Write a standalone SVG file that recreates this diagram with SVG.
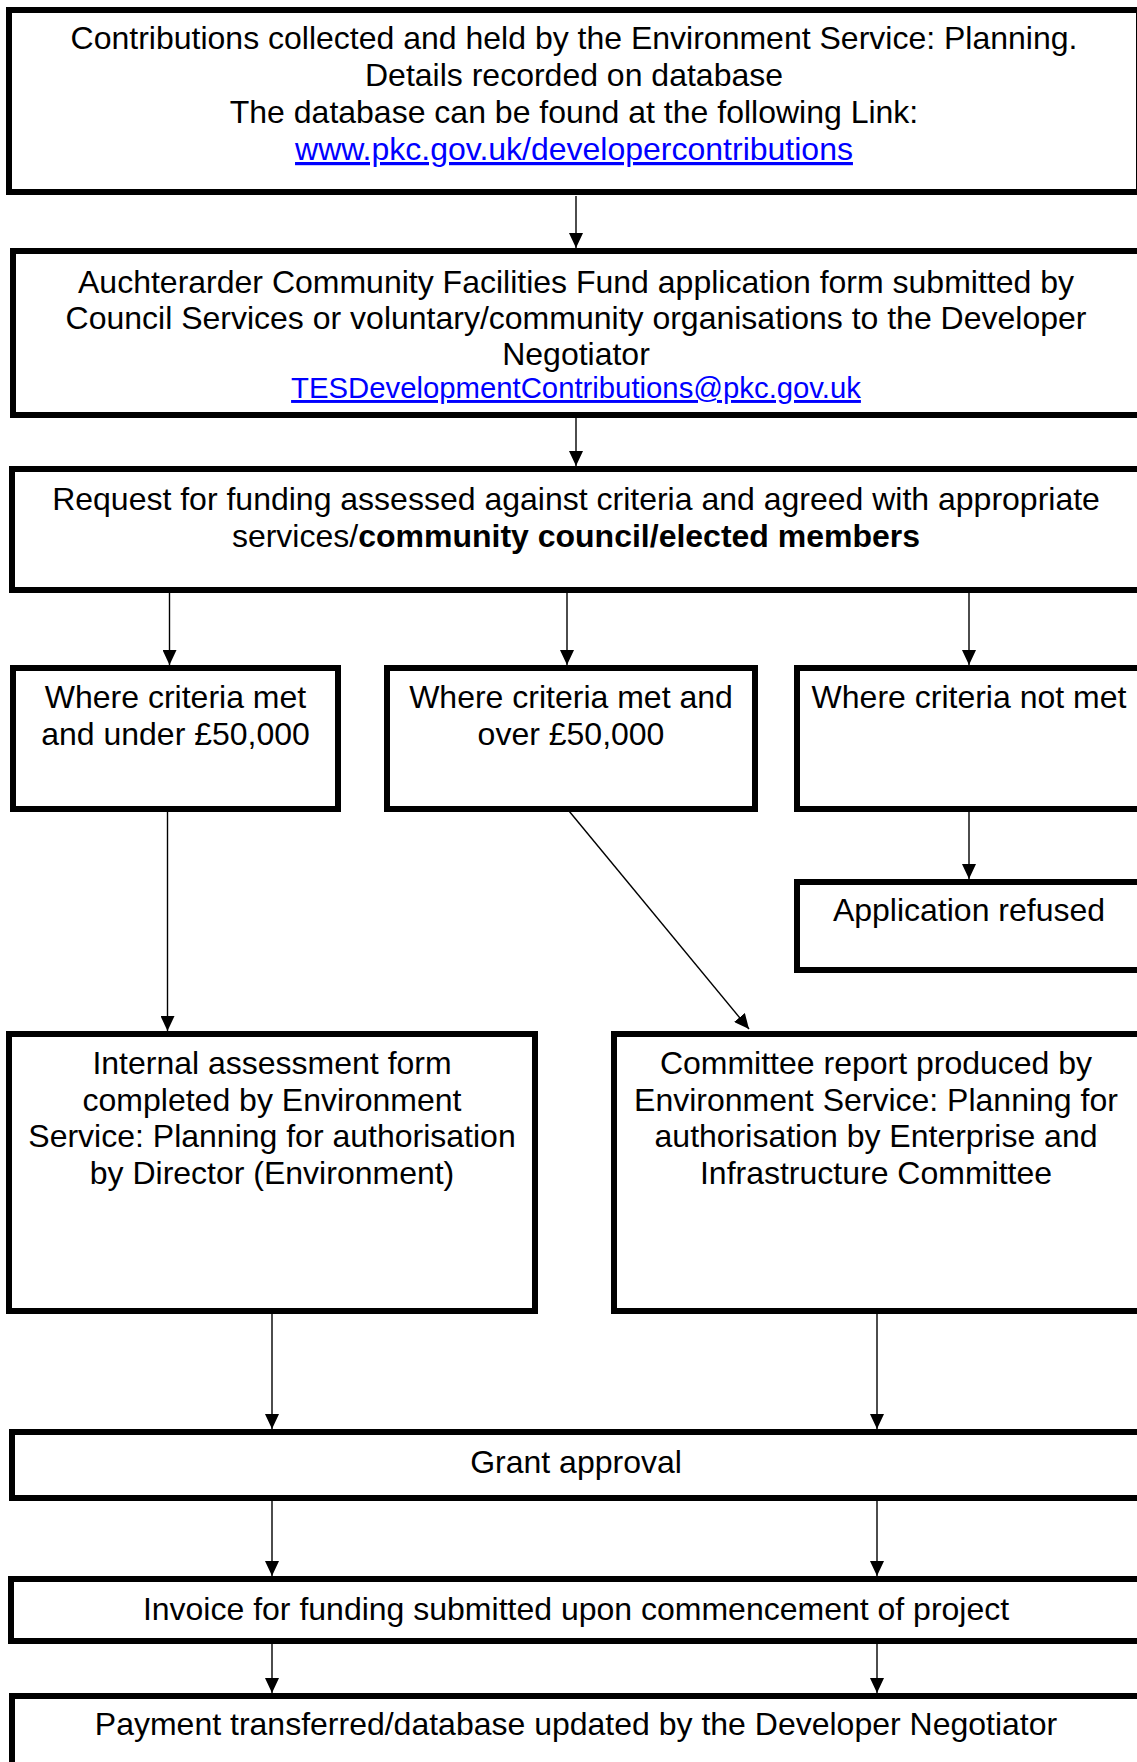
<svg xmlns="http://www.w3.org/2000/svg" width="1137" height="1762" viewBox="0 0 1137 1762">
<style>
.box{fill:#fff;stroke:#000;stroke-width:6}
.t{font-family:"Liberation Sans",Arial,sans-serif;font-size:32px;fill:#000;text-anchor:middle}
.link{fill:#0000ff;text-decoration:underline}
.c{stroke:#000;stroke-width:1.4;fill:none;marker-end:url(#ah)}
</style>
<defs>
<marker id="ah" viewBox="0 0 15 14" refX="15" refY="7" markerWidth="15" markerHeight="14" markerUnits="userSpaceOnUse" orient="auto">
<path d="M0,0 L15,7 L0,14 Z" fill="#000"/>
</marker>
</defs>
<rect width="1137" height="1762" fill="#fff"/>
<g id="connectors">
<line class="c" x1="576" y1="196" x2="576" y2="248"/>
<line class="c" x1="576" y1="417" x2="576" y2="466"/>
<line class="c" x1="169.5" y1="593" x2="169.5" y2="665"/>
<line class="c" x1="567" y1="588" x2="567" y2="665"/>
<line class="c" x1="969" y1="593" x2="969" y2="665"/>
<line class="c" x1="167.5" y1="812" x2="167.5" y2="1031"/>
<line class="c" x1="569" y1="811" x2="749" y2="1029"/>
<line class="c" x1="969" y1="812" x2="969" y2="879"/>
<line class="c" x1="272" y1="1314" x2="272" y2="1429"/>
<line class="c" x1="877" y1="1314" x2="877" y2="1429"/>
<line class="c" x1="272" y1="1501" x2="272" y2="1576"/>
<line class="c" x1="877" y1="1501" x2="877" y2="1576"/>
<line class="c" x1="272" y1="1644" x2="272" y2="1693"/>
<line class="c" x1="877" y1="1644" x2="877" y2="1693"/>
</g>
<g id="n1">
<rect class="box" x="9" y="10" width="1130" height="182"/>
<text class="t" x="574" y="49">Contributions collected and held by the Environment Service: Planning.</text>
<text class="t" x="574" y="86">Details recorded on database</text>
<text class="t" x="574" y="123">The database can be found at the following Link:</text>
<text class="t link" x="574" y="160">www.pkc.gov.uk/developercontributions</text>
</g>
<g id="n2">
<rect class="box" x="13" y="251" width="1128" height="164"/>
<text class="t" x="576" y="293">Auchterarder Community Facilities Fund application form submitted by</text>
<text class="t" x="576" y="329">Council Services or voluntary/community organisations to the Developer</text>
<text class="t" x="576" y="365">Negotiator</text>
<text class="t link" x="576" y="398" style="font-size:29.3px">TESDevelopmentContributions@pkc.gov.uk</text>
</g>
<g id="n3">
<rect class="box" x="12" y="469" width="1129" height="121"/>
<text class="t" x="576" y="510">Request for funding assessed against criteria and agreed with appropriate</text>
<text class="t" x="576" y="547">services/<tspan font-weight="bold">community council/elected members</tspan></text>
</g>
<g id="n4">
<rect class="box" x="13" y="668" width="325" height="141"/>
<text class="t" x="175.5" y="708">Where criteria met</text>
<text class="t" x="175.5" y="745">and under £50,000</text>
</g>
<g id="n5">
<rect class="box" x="387" y="668" width="368" height="141"/>
<text class="t" x="571" y="708">Where criteria met and</text>
<text class="t" x="571" y="745">over £50,000</text>
</g>
<g id="n6">
<rect class="box" x="797" y="668" width="344" height="141"/>
<text class="t" x="969" y="708">Where criteria not met</text>
</g>
<g id="n7">
<rect class="box" x="797" y="882" width="344" height="88"/>
<text class="t" x="969" y="921">Application refused</text>
</g>
<g id="n8">
<rect class="box" x="9" y="1034" width="526" height="277"/>
<text class="t" x="272" y="1074">Internal assessment form</text>
<text class="t" x="272" y="1111">completed by Environment</text>
<text class="t" x="272" y="1147">Service: Planning for authorisation</text>
<text class="t" x="272" y="1184">by Director (Environment)</text>
</g>
<g id="n9">
<rect class="box" x="614" y="1034" width="527" height="277"/>
<text class="t" x="876" y="1074">Committee report produced by</text>
<text class="t" x="876" y="1111">Environment Service: Planning for</text>
<text class="t" x="876" y="1147">authorisation by Enterprise and</text>
<text class="t" x="876" y="1184">Infrastructure Committee</text>
</g>
<g id="n10">
<rect class="box" x="12" y="1432" width="1129" height="66"/>
<text class="t" x="576" y="1473">Grant approval</text>
</g>
<g id="n11">
<rect class="box" x="11" y="1579" width="1130" height="62"/>
<text class="t" x="576" y="1620">Invoice for funding submitted upon commencement of project</text>
</g>
<g id="n12">
<rect class="box" x="12" y="1696" width="1129" height="80"/>
<text class="t" x="576" y="1735">Payment transferred/database updated by the Developer Negotiator</text>
</g>
</svg>
